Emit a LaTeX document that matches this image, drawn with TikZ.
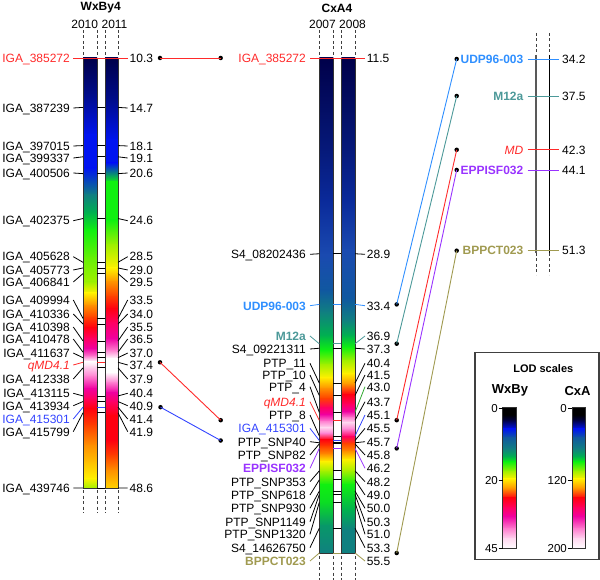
\documentclass[tikz,border=0pt]{standalone}
\usepackage{fontspec}
\setmainfont{Liberation Sans}
\definecolor{Knv}{HTML}{00004A}
\definecolor{Knv2}{HTML}{000C8C}
\definecolor{Kbl}{HTML}{0014F0}
\definecolor{Kbt}{HTML}{1058A0}
\definecolor{Ktl}{HTML}{108080}
\definecolor{Ktg}{HTML}{00B050}
\definecolor{Kgr}{HTML}{10F010}
\definecolor{Kyg}{HTML}{A0F000}
\definecolor{Kye}{HTML}{FFF000}
\definecolor{Kor}{HTML}{FF9000}
\definecolor{Kro}{HTML}{FF4000}
\definecolor{Krd}{HTML}{FF0010}
\definecolor{Krm}{HTML}{FF0060}
\definecolor{Kmg}{HTML}{F000A0}
\definecolor{Kpk}{HTML}{FF80D0}
\definecolor{Klp}{HTML}{FFD8F0}
\definecolor{Kwh}{HTML}{FFFFFF}
\definecolor{Kdb}{HTML}{0A2A9A}
\definecolor{Kmb}{HTML}{1A4AB0}
\definecolor{Cred}{HTML}{FF2A2A}
\definecolor{Cblue}{HTML}{3344FF}
\definecolor{Cltb}{HTML}{2F8FFF}
\definecolor{Cteal}{HTML}{4C9999}
\definecolor{Cpur}{HTML}{9933FF}
\definecolor{Colv}{HTML}{A09A50}
\definecolor{Cgrn}{HTML}{33AA33}
\newcommand\fsz{\fontsize{12}{14}\selectfont}
\newcommand\gradbar[5]{%
  \begin{scope}
  \clip (#1,#3) rectangle (#2,#4);
  \foreach \gy/\gc [count=\gi, remember=\gy as \gpy (initially 0), remember=\gc as \gpc (initially black)] in {#5}{%
    \ifnum\gi>1\relax
      \shade[top color=\gpc, bottom color=\gc] (#1,\gpy) rectangle (#2,\gy+0.6);
    \fi
  }%
  \end{scope}
  \draw[barline] (#1,#3) rectangle (#2,#4);
}
\begin{document}
\begin{tikzpicture}[x=1pt,y=-1pt,
  lab/.style={inner sep=0pt, text height=8.6pt, text depth=0pt, font=\fsz},
  mline/.style={line width=0.8pt},
  dsh/.style={line width=0.8pt, dash pattern=on 3pt off 2.5pt, black!75},
  barline/.style={draw=black!80, line width=0.8pt},
  dot/.style={circle, fill=black, inner sep=0pt, minimum size=4.5pt},
  conn/.style={line width=0.9pt}]
\useasboundingbox (0,0) rectangle (600,580);

% ---------------- titles
\node[font=\bfseries\fontsize{12}{14}\selectfont] (t1) at (100.7,8) {WxBy4};
\node[font=\fsz] (y2010) at (84.7,24.5) {2010};
\node[font=\fsz] (y2011) at (114.5,24.5) {2011};
\node[font=\bfseries\fontsize{12}{14}\selectfont] (t2) at (337,8) {CxA4};
\node[font=\fsz] (y2007) at (322.5,24.5) {2007};
\node[font=\fsz] (y2008) at (352.5,24.5) {2008};

% ---------------- dashed extensions
\foreach \x in {83,97,105,118}{\draw[dsh] (\x,30) -- (\x,57); \draw[dsh] (\x,490) -- (\x,513);}
\foreach \x in {319.3,333.3,341.3,355}{\draw[dsh] (\x,30) -- (\x,57); \draw[dsh] (\x,556) -- (\x,580);}
\foreach \x in {536,549.7}{\draw[dsh] (\x,33) -- (\x,55); \draw[dsh] (\x,253) -- (\x,275);}

% ---------------- WxBy4 bars
\gradbar{83}{97}{58}{488}{58/Knv,95/Knv2,135/Kbl,168/Kbl,195/Ktl,212/Ktg,230/Kgr,258/Kyg!60!Kgr,282/Kyg,293/Kye,305/Kor,317/Kro,327/Krd,338/Krm,348/Kmg,356/Kpk,361/Kwh,366/Klp,376/Kpk,388/Kmg,398/Krm,408/Krd,425/Kro,445/Kor,462/Kor!50!Kye,478/Kye,488/Kyg}
\gradbar{105}{118}{58}{488}{58/Knv,100/Knv2,140/Kbl,163/Kbl,182/Kgr,220/Kgr,245/Kyg,268/Kye,282/Kor,296/Kro,308/Krd,322/Krm,338/Kmg,350/Kpk,358/Kwh,372/Kwh,382/Kpk,392/Kmg,402/Krm,415/Krd,440/Krd,455/Kro,470/Kor,488/Kye!70!Kor}

% ---------------- CxA4 bars
\gradbar{319.3}{333.3}{58}{553}{58/Knv,150/Knv!40!Kdb,200/Kdb,255/Kmb,290/Kbt,312/Ktl,335/Ktg,350/Kgr,364/Kyg,377/Kye,388/Kor,398/Kro,407/Krm,414/Kmg,421/Kpk,427/Klp,433/Kpk,439/Krd,446/Kro,454/Kor,461/Kye,471/Kyg,484/Kgr,502/Kgr!70!Ktg,525/Ktg!50!Ktl,553/Ktl}
\gradbar{341.3}{355}{58}{553}{58/Knv,150/Knv!40!Kdb,200/Kdb,250/Kmb,298/Kbt,320/Ktl,335/Ktg,347/Kgr,360/Kyg,373/Kye,384/Kor,394/Krd,404/Krm,411/Kmg,417/Kpk,422/Klp,429/Kpk,436/Krm,443/Kro,451/Kor,459/Kye,471/Kyg,484/Kgr,510/Ktg,530/Ktl,553/Ktl}

% ---------------- WxBy4 markers
\foreach \lab/\ly/\d/\lc [count=\i] in {IGA\_385272/58/10.3/Cred, IGA\_387239/108/14.7/black, IGA\_397015/146/18.1/black, IGA\_399337/158/19.1/black, IGA\_400506/173/20.6/black, IGA\_402375/220.7/24.6/black, IGA\_405628/256.7/28.5/black, IGA\_405773/270/29.0/black, IGA\_406841/282/29.5/black, IGA\_409994/300/33.5/black, IGA\_410336/314/34.0/black, IGA\_410398/327/35.5/black, IGA\_410478/339/36.5/black, IGA\_411637/353/37.0/black, {\itshape qMD4.1}/365/37.4/Cred, IGA\_412338/379/37.9/black, IGA\_413115/393.3/40.4/black, IGA\_413934/405.7/40.9/black, IGA\_415301/419/41.4/Cblue, IGA\_415799/431.7/41.9/black, IGA\_439746/488/48.6/black}{
  \pgfmathsetmacro\ay{58+(\d-10.3)*11.227}
  \node[lab, anchor=east, text=\lc] (wl\i) at (70,\ly) {\lab};
  \node[lab, anchor=west] (wr\i) at (129.5,\ly) {\d};
  \draw[mline,\lc] (73.3,\ly) -- (83,\ay);
  \draw[mline,\lc] (97,\ay) -- (105,\ay);
  \draw[mline] (118,\ay) -- (127.7,\ly);
}
\draw[mline,Cred] (73.3,58) -- (127.7,58);

% ---------------- CxA4 markers
\foreach \lab/\ly/\d/\lc/\rc [count=\i] in {IGA\_385272/58/11.5/Cred/Cred, S4\_08202436/254.3/28.9/black/black, {\bfseries UDP96-003}/305.7/33.4/Cltb/Cltb, {\bfseries M12a}/336/36.9/Cteal/Cteal, S4\_09221311/349/37.3/black/black, PTP\_11/363.3/40.4/black/black, PTP\_10/375/41.5/black/black, PTP\_4/386.7/43.0/black/Cgrn, {\itshape qMD4.1}/401.7/43.7/Cred/black, PTP\_8/415/45.1/black/Cblue, IGA\_415301/428.3/45.5/Cblue/black, PTP\_SNP40/441.7/45.7/black/black, PTP\_SNP82/455/45.8/black/black, {\bfseries EPPISF032}/468.3/46.2/Cpur/Cpur, PTP\_SNP353/481.7/48.2/black/black, PTP\_SNP618/495/49.0/black/black, PTP\_SNP930/508.3/50.0/black/black, PTP\_SNP1149/521.7/50.3/black/black, PTP\_SNP1320/534.3/51.0/black/black, S4\_14626750/547.7/53.3/black/black, {\bfseries BPPCT023}/561/55.5/Colv/Colv}{
  \pgfmathsetmacro\ay{58+(\d-11.5)*11.25}
  \node[lab, anchor=east, text=\lc] (cl\i) at (306,\ly) {\lab};
  \node[lab, anchor=west] (cr\i) at (366.7,\ly) {\d};
  \draw[mline,\lc] (310,\ly) -- (319.3,\ay);
  \draw[mline,\lc] (333.3,\ay) -- (341.3,\ay);
  \draw[mline,\rc] (355,\ay) -- (365,\ly);
}
\draw[mline,Cred] (310,58) -- (365,58);

% ---------------- right map
\draw[line width=1.6pt, black!65] (536,55) -- (536,253);
\draw[line width=1pt, black] (549.7,55) -- (549.7,253);
\foreach \lab/\d/\c [count=\i] in {{\bfseries UDP96-003}/34.2/Cltb, {\bfseries M12a}/37.5/Cteal, {\itshape MD}/42.3/Cred, {\bfseries EPPISF032}/44.1/Cpur, {\bfseries BPPCT023}/51.3/Colv}{
  \pgfmathsetmacro\ay{59+(\d-34.2)*11.21}
  \node[lab, anchor=east, text=\c] (ml\i) at (523.5,\ay) {\lab};
  \draw[mline,\c] (527.7,\ay) -- (559,\ay);
  \node[lab, anchor=west] (mr\i) at (562,\ay) {\d};
  \node[dot] (md\i) at (456.7,\ay) {};
}

% ---------------- dots and connectors
\node[dot] (wd1) at (160,58) {};
\node[dot] (wd2) at (160,362.3) {};
\node[dot] (wd3) at (160.5,407.2) {};
\node[dot] (cd1) at (220.7,58) {};
\node[dot] (cd2) at (220.7,420.2) {};
\node[dot] (cd3) at (220.7,440.5) {};
\draw[conn,Cred] (wd1.center) -- (cd1.center);
\draw[conn,Cred] (wd2.center) -- (cd2.center);
\draw[conn,Cblue] (wd3.center) -- (cd3.center);

\node[dot] (ce1) at (396.7,304.4) {};
\node[dot] (ce2) at (396.7,343.7) {};
\node[dot] (ce3) at (396.7,420.2) {};
\node[dot] (ce4) at (396.7,448.4) {};
\node[dot] (ce5) at (396.7,553) {};
\draw[conn,Cltb] (ce1.center) -- (md1.center);
\draw[conn,Cteal] (ce2.center) -- (md2.center);
\draw[conn,Cred] (ce3.center) -- (md3.center);
\draw[conn,Cpur] (ce4.center) -- (md4.center);
\draw[conn,Colv] (ce5.center) -- (md5.center);

% ---------------- legend
\draw[line width=1.2pt, black!75] (475,352.7) rectangle (599,559.3);
\node[font=\bfseries\fontsize{11}{13}\selectfont] (lodt) at (543.3,369) {LOD scales};
\node[font=\bfseries\fontsize{13}{15}\selectfont] (lgw) at (510,390.7) {WxBy};
\node[font=\bfseries\fontsize{13}{15}\selectfont] (lgc) at (577.5,390.7) {CxA};
\gradbar{502.7}{516}{407.7}{548.3}{407.7/black,414.7/black,420.4/Knv,428.8/Kbl,437.2/Kbt,448.5/Ktl,456.2/Ktg,461.8/Kgr,471/Kyg,478.7/Kye,488.5/Kor,497.7/Krd,507.5/Krm,516/Kmg,528.6/Kpk,538.5/Klp,548.3/Kwh}
\gradbar{572.3}{585}{407.7}{548.3}{407.7/black,414.7/black,420.4/Knv,428.8/Kbl,437.2/Kbt,448.5/Ktl,456.2/Ktg,461.8/Kgr,471/Kyg,478.7/Kye,488.5/Kor,497.7/Krd,507.5/Krm,516/Kmg,528.6/Kpk,538.5/Klp,548.3/Kwh}
\foreach \t/\y [count=\i] in {0/408,20/480,45/548}{
  \node[lab, anchor=east, font=\fontsize{11.5}{13}\selectfont] (lwv\i) at (498,\y) {\t};
  \draw[mline] (498.5,\y) -- (502.7,\y);
}
\foreach \t/\y [count=\i] in {0/408,120/480,200/548}{
  \node[lab, anchor=east, font=\fontsize{11.5}{13}\selectfont] (lcv\i) at (567,\y) {\t};
  \draw[mline] (567.5,\y) -- (572.3,\y);
}
\end{tikzpicture}
\end{document}
